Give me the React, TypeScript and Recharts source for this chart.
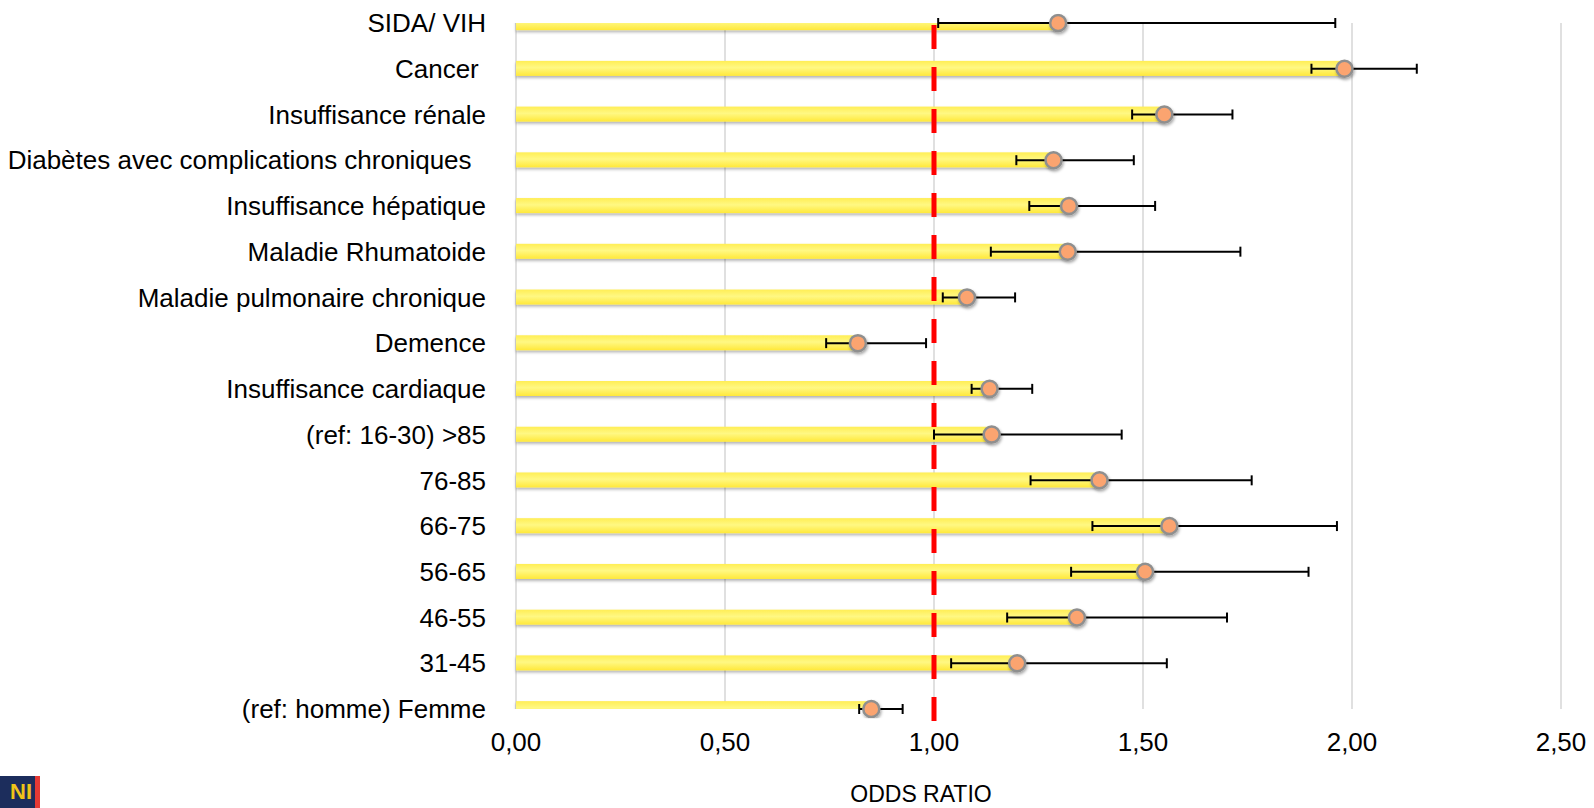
import React from "react";
import {
  ComposedChart,
  Bar,
  Line,
  XAxis,
  YAxis,
  CartesianGrid,
  ReferenceLine,
  ErrorBar,
} from "recharts";

const CATEGORIES = [
  "SIDA/ VIH",
  "Cancer\u00a0",
  "Insuffisance rénale",
  "Diabètes avec complications chroniques\u00a0\u00a0",
  "Insuffisance hépatique",
  "Maladie Rhumatoide",
  "Maladie pulmonaire chronique",
  "Demence",
  "Insuffisance cardiaque",
  "(ref: 16-30) >85",
  "76-85",
  "66-75",
  "56-65",
  "46-55",
  "31-45",
  "(ref: homme) Femme",
];

const ODDS_RATIO = [1.297, 1.982, 1.551, 1.286, 1.323, 1.32, 1.079, 0.818, 1.133, 1.138, 1.396, 1.563, 1.505, 1.342, 1.199, 0.85];
const CI_LOWER = [1.01, 1.903, 1.474, 1.197, 1.228, 1.136, 1.021, 0.742, 1.09, 1.0, 1.231, 1.379, 1.328, 1.175, 1.041, 0.821];
const CI_UPPER = [1.96, 2.155, 1.714, 1.478, 1.529, 1.733, 1.194, 0.981, 1.235, 1.449, 1.76, 1.964, 1.896, 1.701, 1.557, 0.925];

const X_TICKS = [0, 0.5, 1, 1.5, 2, 2.5];
const REFERENCE_VALUE = 1;
const X_LABEL = "ODDS RATIO";

const data = CATEGORIES.map((name, i) => ({
  idx: i,
  name,
  value: ODDS_RATIO[i],
  err: [ODDS_RATIO[i] - CI_LOWER[i], CI_UPPER[i] - ODDS_RATIO[i]],
}));

const FONT = "'Liberation Sans', Arial, Helvetica, sans-serif";

const BarShape = (props: any) => {
  const { x, y, width, height } = props;
  if (width == null || height == null) return null;
  return (
    <rect
      x={x}
      y={y}
      width={Math.max(0, width)}
      height={height}
      fill="url(#barGrad)"
      filter="url(#barShadow)"
    />
  );
};

export default function App() {
  return (
    <div
      style={{
        position: "absolute",
        left: 0,
        top: 0,
        width: 1594,
        height: 808,
        background: "#ffffff",
        overflow: "hidden",
        fontFamily: FONT,
      }}
    >
      <ComposedChart
        width={1594}
        height={808}
        data={data}
        layout="vertical"
        margin={{ top: 23, right: 33, bottom: 39, left: 26 }}
      >
        <defs>
          <linearGradient id="barGrad" x1="0" y1="0" x2="0" y2="1">
            <stop offset="0%" stopColor="#FFEE55" />
            <stop offset="45%" stopColor="#FFF883" />
            <stop offset="100%" stopColor="#FFE83A" />
          </linearGradient>
          <filter id="barShadow" x="-5%" y="-50%" width="110%" height="220%">
            <feDropShadow dx="0" dy="2" stdDeviation="1.5" floodColor="#000" floodOpacity="0.3" />
          </filter>
          <filter id="dotShadow" x="-50%" y="-50%" width="200%" height="200%">
            <feDropShadow dx="1" dy="2" stdDeviation="1.5" floodColor="#000" floodOpacity="0.35" />
          </filter>
        </defs>
        <CartesianGrid horizontal={false} stroke="#d6d6d6" strokeWidth={1.5} />
        <XAxis
          type="number"
          dataKey="value"
          domain={[0, 2.5]}
          ticks={X_TICKS}
          interval={0}
          axisLine={false}
          tickLine={false}
          tickSize={0}
          tickMargin={24}
          height={60}
          tickFormatter={(v: number) => v.toFixed(2).replace(".", ",")}
          tick={{ fontSize: 26, fill: "#000", fontFamily: FONT }}
        />
        <YAxis
          type="number"
          dataKey="idx"
          domain={[0, 15]}
          allowDataOverflow
          ticks={CATEGORIES.map((_, i) => i)}
          interval={0}
          width={490}
          axisLine={false}
          tickLine={false}
          tickSize={0}
          tickMargin={30}
          tickFormatter={(i: number) => CATEGORIES[i]}
          tick={{ fontSize: 26, fill: "#000", fontFamily: FONT }}
        />
        <Bar
          dataKey="value"
          barSize={15}
          shape={BarShape}
          isAnimationActive={false}
          legendType="none"
        />
        <ReferenceLine
          segment={[
            { x: REFERENCE_VALUE, y: 0 },
            { x: REFERENCE_VALUE, y: 15.27 },
          ]}
          ifOverflow="visible"
          stroke="#ff0000"
          strokeWidth={5}
          strokeDasharray="24 18"
          strokeDashoffset={-2}
        />
        <Line
          dataKey="value"
          stroke="none"
          isAnimationActive={false}
          legendType="none"
          activeDot={false}
          dot={{
            r: 8,
            fill: "#FBA46F",
            stroke: "#8F8F8F",
            strokeWidth: 2.5,
            clipDot: false,
            filter: "url(#dotShadow)",
          } as any}
        >
          <ErrorBar dataKey="err" direction="x" width={5} stroke="#000" strokeWidth={2} />
        </Line>
      </ComposedChart>
      <div
        style={{
          position: "absolute",
          left: 821,
          top: 783,
          width: 200,
          textAlign: "center",
          fontSize: 23,
          lineHeight: "23px",
          color: "#000",
          fontFamily: FONT,
        }}
      >
        {X_LABEL}
      </div>
      <div
        style={{
          position: "absolute",
          left: 0,
          top: 776,
          width: 35,
          height: 32,
          background: "#1c2d5c",
          overflow: "hidden",
        }}
      >
        <div
          style={{
            position: "absolute",
            right: 3,
            top: 5,
            fontSize: 22,
            lineHeight: "22px",
            fontWeight: "bold",
            color: "#f0c419",
            fontFamily: FONT,
          }}
        >
          NI
        </div>
      </div>
      <div
        style={{
          position: "absolute",
          left: 35,
          top: 776,
          width: 5,
          height: 32,
          background: "#e53935",
        }}
      />
    </div>
  );
}
